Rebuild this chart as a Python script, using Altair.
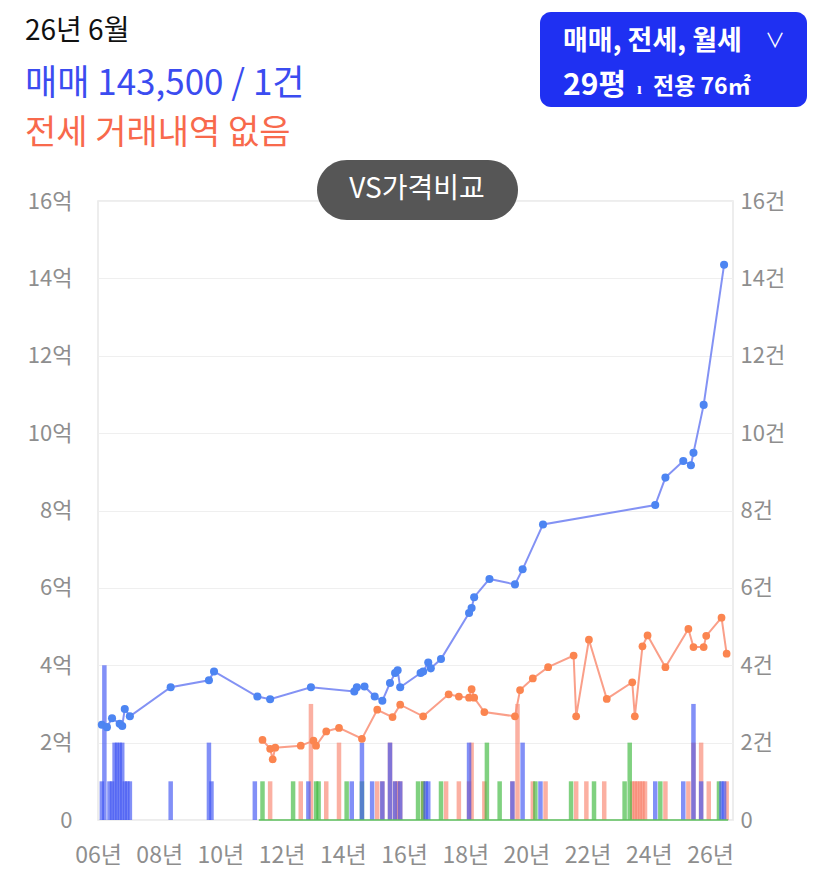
import altair as alt
import pandas as pd

FONT = "Noto Sans CJK KR"

# ---------------- data ----------------
# 매매 (sale) price points, 억
sale_months = ["2006-02", "2006-04", "2006-06", "2006-09", "2006-10", "2006-11", "2007-01",
               "2008-05", "2009-08", "2009-10", "2011-03", "2011-08", "2012-12",
               "2014-05", "2014-06", "2014-09", "2015-01", "2015-04", "2015-07", "2015-09",
               "2015-10", "2015-11", "2016-07", "2016-08", "2016-10", "2016-11", "2017-03",
               "2018-02", "2018-03", "2018-04", "2018-10", "2019-08", "2019-11", "2020-07",
               "2024-03", "2024-07", "2025-02", "2025-05", "2025-06", "2025-10", "2026-06"]
sale_price = [2.46, 2.40, 2.63, 2.49, 2.43, 2.87, 2.68,
              3.43, 3.61, 3.84, 3.19, 3.12, 3.43,
              3.32, 3.43, 3.45, 3.19, 3.08, 3.54, 3.80,
              3.87, 3.43, 3.80, 3.84, 4.07, 3.92, 4.16,
              5.35, 5.48, 5.76, 6.23, 6.09, 6.48, 7.64,
              8.14, 8.85, 9.28, 9.17, 9.49, 10.73, 14.35]

# 전세 (jeonse) price points, 억
jeonse_months = ["2011-05", "2011-08", "2011-09", "2011-10", "2012-08", "2013-01", "2013-02",
                 "2013-06", "2013-11", "2014-08", "2015-02", "2015-08", "2015-11", "2016-08",
                 "2017-06", "2017-10", "2018-02", "2018-03", "2018-04", "2018-08", "2019-08",
                 "2019-10", "2020-03", "2020-09", "2021-07", "2021-08", "2022-01", "2022-08",
                 "2023-06", "2023-07", "2023-10", "2023-12", "2024-07", "2025-04", "2025-06",
                 "2025-10", "2025-11", "2026-05", "2026-07"]
jeonse_price = [2.07, 1.84, 1.57, 1.87, 1.92, 2.05, 1.92,
                2.29, 2.38, 2.10, 2.85, 2.66, 2.98, 2.68,
                3.25, 3.19, 3.16, 3.38, 3.16, 2.79, 2.68,
                3.36, 3.66, 3.95, 4.25, 2.68, 4.66, 3.13,
                3.56, 2.68, 4.49, 4.77, 3.95, 4.94, 4.47,
                4.47, 4.76, 5.23, 4.30]

# transaction counts (건)
sale_bar_months = ["2006-02", "2006-03", "2006-05", "2006-06", "2006-07", "2006-08", "2006-09",
                   "2006-10", "2006-11", "2006-12", "2007-01", "2008-05", "2009-08", "2009-09",
                   "2011-02", "2012-11", "2014-04", "2014-08", "2014-12", "2015-04", "2015-07",
                   "2015-09", "2015-11", "2016-09", "2016-10", "2018-02", "2019-07", "2019-11",
                   "2020-06", "2024-03", "2025-02", "2025-06", "2025-09", "2026-05", "2026-06"]
sale_bar_counts = [1, 4, 1, 1, 2, 2, 2, 2, 1, 1, 1, 1, 2, 1, 1, 1, 1, 2, 1, 1, 2,
                   1, 1, 1, 1, 2, 1, 2, 1, 1, 1, 3, 1, 1, 1]

jeonse_bar_months = ["2011-08", "2012-08", "2012-12", "2013-06", "2013-11", "2015-02", "2015-04",
                     "2015-07", "2015-09", "2015-10", "2015-11", "2016-08", "2017-05", "2017-10",
                     "2018-02", "2018-03", "2018-08", "2019-07", "2019-09", "2020-03", "2020-08",
                     "2021-08", "2021-12", "2022-07", "2023-06", "2023-07", "2023-08", "2023-09",
                     "2023-10", "2023-11", "2024-07", "2025-04", "2025-06", "2025-09", "2025-12",
                     "2026-07"]
jeonse_bar_counts = [1, 1, 3, 1, 2, 1, 1, 2, 1, 1, 1, 1, 1, 1, 1, 2, 1, 1, 3, 1, 1,
                     1, 1, 1, 1, 1, 1, 1, 1, 1, 1, 1, 2, 2, 1, 1]

wolse_bar_months = ["2011-05", "2012-05", "2013-02", "2013-03", "2014-02", "2014-08", "2016-06",
                    "2016-08", "2017-03", "2018-09", "2019-02", "2020-04", "2021-06", "2022-03",
                    "2023-03", "2023-05", "2024-05", "2026-04"]
wolse_bar_counts = [1, 1, 1, 1, 1, 1, 1, 1, 1, 2, 1, 1, 1, 1, 1, 2, 1, 1]

y_ticks = [0, 2, 4, 6, 8, 10, 12, 14, 16]
x_ticks = [2006, 2008, 2010, 2012, 2014, 2016, 2018, 2020, 2022, 2024, 2026]


def to_year(m):
    y, mo = m.split("-")
    return int(y) + (int(mo) - 0.5) / 12


sale = pd.DataFrame({"t": [to_year(m) for m in sale_months], "v": sale_price})
jeonse = pd.DataFrame({"t": [to_year(m) for m in jeonse_months], "v": jeonse_price})
sale_bars = pd.DataFrame({"t": [to_year(m) for m in sale_bar_months], "c": sale_bar_counts})
jeonse_bars = pd.DataFrame({"t": [to_year(m) for m in jeonse_bar_months], "c": jeonse_bar_counts})
wolse_bars = pd.DataFrame({"t": [to_year(m) for m in wolse_bar_months], "c": wolse_bar_counts})
wolse_line = pd.DataFrame({"t": [to_year(wolse_bar_months[0]) - 0.12,
                                 max(to_year(jeonse_months[-1]), to_year(sale_months[-1])) + 0.05],
                           "v": [0, 0]})
one = pd.DataFrame({"k": [0]})

# ---------------- scales / axes ----------------
LABEL_GRAY = "#8e8e8e"
xscale = alt.Scale(domain=[2006.0, 2026.75], nice=False, zero=False, padding=0)
xaxis = alt.Axis(values=x_ticks, labelExpr="format(datum.value % 100, '02d') + '년'",
                 title=None, grid=False, domain=False, ticks=False, labelFont=FONT,
                 labelFontSize=23, labelColor=LABEL_GRAY, labelPadding=24, labelFlush=False)
yscale = alt.Scale(domain=[0, 16], nice=False, padding=0)
yaxis = alt.Axis(values=y_ticks, labelExpr="datum.value == 0 ? '0' : datum.value + '억'",
                 title=None, orient="left", grid=True, gridColor="#efefef", domain=False,
                 ticks=False, labelFont=FONT, labelFontSize=22, labelColor=LABEL_GRAY,
                 labelPadding=26)
y2axis = alt.Axis(values=y_ticks, labelExpr="datum.value == 0 ? '0' : datum.value + '건'",
                  title=None, orient="right", grid=False, domain=False, ticks=False,
                  labelFont=FONT, labelFontSize=22, labelColor=LABEL_GRAY, labelPadding=7)

X = alt.X("t:Q", scale=xscale, axis=xaxis)


def bars(df, color, op):
    return alt.Chart(df).mark_bar(size=4.5, color=color, opacity=op).encode(
        x=X, y=alt.Y("c:Q", scale=yscale, axis=y2axis))


bar_layer = alt.layer(
    bars(jeonse_bars, "#f87c64", 0.6),
    bars(wolse_bars, "#3cb83c", 0.65),
    bars(sale_bars, "#3f55f2", 0.65),
)

Y = alt.Y("v:Q", scale=yscale, axis=yaxis)
green_line = alt.Chart(wolse_line).mark_line(color="#5cc05c", strokeWidth=1.5).encode(x=X, y=Y)
jeonse_line = alt.Chart(jeonse).mark_line(color="#f9957c", strokeWidth=2, opacity=0.9).encode(x=X, y=Y)
jeonse_pts = alt.Chart(jeonse).mark_circle(color="#fb8550", size=60, opacity=1).encode(x=X, y=Y)
sale_line = alt.Chart(sale).mark_line(color="#6d7ff2", strokeWidth=2, opacity=0.85).encode(x=X, y=Y)
sale_pts = alt.Chart(sale).mark_circle(color="#4d85f2", size=65, opacity=1).encode(x=X, y=Y)

line_layer = alt.layer(green_line, jeonse_line, jeonse_pts, sale_line, sale_pts)


def txt(s, x, y, size, color, weight="normal", align="left", baseline="alphabetic"):
    return alt.Chart(one).mark_text(text=s, font=FONT, fontSize=size, color=color,
                                    fontWeight=weight, align=align, baseline=baseline).encode(
        x=alt.value(x), y=alt.value(y))


def box(x, x2, y, y2, color, r):
    return alt.Chart(one).mark_rect(color=color, cornerRadius=r).encode(
        x=alt.value(x), x2=alt.value(x2), y=alt.value(y), y2=alt.value(y2))


decor = alt.layer(
    txt("26년 6월", -73, -161, 28, "#111111"),
    txt("매매 143,500 / 1건", -73, -106, 35, "#3b4cf0"),
    txt("전세 거래내역 없음", -73, -57, 34, "#f8694c"),
    box(442, 709, -189, -94, "#1f30f2", 11),
    txt("매매, 전세, 월세", 465, -151, 27, "#ffffff", "bold"),
    txt("∨", 667, -153, 20, "#ffffff"),
    txt("29평", 465, -106, 30, "#ffffff", "bold"),
    txt("ı", 539, -107, 17, "#ffffff", "bold"),
    txt("전용 76㎡", 555, -107, 23, "#ffffff", "bold"),
    box(219, 420, -41, 19, "#565656", 30),
    txt("VS가격비교", 319, -11, 28, "#ffffff", "normal", "center", "middle"),
)

chart = alt.layer(bar_layer, line_layer, decor).resolve_scale(y="independent").properties(
    width=635, height=619,
    padding={"left": 90, "top": 193, "right": 86, "bottom": 52},
    autosize=alt.AutoSizeParams(type="none"),
    background="#ffffff",
).configure_view(stroke="#e8e8e8", strokeWidth=1.5)

chart.save("out.html", embed_options={"renderer": "svg", "actions": False})
